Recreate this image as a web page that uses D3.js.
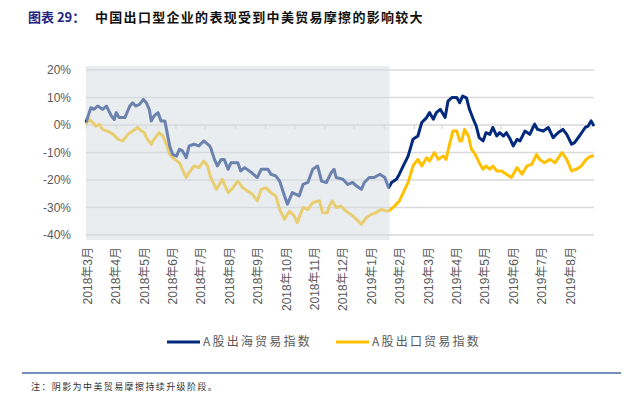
<!DOCTYPE html>
<html>
<head>
<meta charset="utf-8">
<script src="https://cdn.jsdelivr.net/npm/d3@7"></script>
<style>
  body { margin: 0; background: #fff; }
  svg { display: block; font-family: "Liberation Sans", "Noto Sans CJK SC", sans-serif; }
</style>
</head>
<body>
<div id="chart"></div>
<script>

// A股出海贸易指数 (%)
var outboundDates = ["2018-03-01","2018-03-06","2018-03-09","2018-03-13","2018-03-18","2018-03-22","2018-03-27","2018-03-30",
    "2018-04-01","2018-04-04","2018-04-10","2018-04-15","2018-04-18","2018-04-21","2018-04-25","2018-04-29",
    "2018-05-02","2018-05-05","2018-05-07","2018-05-10","2018-05-14","2018-05-17","2018-05-21","2018-05-26","2018-05-29",
    "2018-06-02","2018-06-05","2018-06-08","2018-06-12","2018-06-15","2018-06-20","2018-06-25","2018-06-30",
    "2018-07-06","2018-07-07","2018-07-11","2018-07-14","2018-07-18","2018-07-21","2018-07-25","2018-07-28",
    "2018-08-04","2018-08-07","2018-08-11","2018-08-18","2018-08-24","2018-08-28",
    "2018-09-04","2018-09-07","2018-09-12","2018-09-16","2018-09-21","2018-09-24","2018-09-29",
    "2018-10-06","2018-10-10","2018-10-15","2018-10-20","2018-10-25","2018-10-29",
    "2018-11-03","2018-11-08","2018-11-11","2018-11-13","2018-11-20","2018-11-25","2018-11-30",
    "2018-12-04","2018-12-09","2018-12-12","2018-12-17","2018-12-22","2018-12-28",
    "2019-01-02","2019-01-06","2019-01-09","2019-01-14","2019-01-17","2019-01-21","2019-01-26","2019-01-31",
    "2019-02-05","2019-02-09","2019-02-14","2019-02-17","2019-02-21","2019-02-24","2019-02-28",
    "2019-03-05","2019-03-08","2019-03-12","2019-03-17","2019-03-20","2019-03-23","2019-03-27","2019-03-30",
    "2019-04-03","2019-04-06","2019-04-09","2019-04-13","2019-04-16","2019-04-20","2019-04-23","2019-04-27","2019-04-30",
    "2019-05-04","2019-05-07","2019-05-11","2019-05-14","2019-05-18","2019-05-21","2019-05-26","2019-05-31",
    "2019-06-05","2019-06-08","2019-06-14","2019-06-19","2019-06-24","2019-06-29",
    "2019-07-04","2019-07-08","2019-07-13","2019-07-16","2019-07-21","2019-07-27","2019-07-30","2019-08-02","2019-08-05"]
var outboundValues = [0.9,6.3,5.7,6.9,5.7,6.9,3.3,2.0,
    4.5,2.7,2.7,6.9,8.1,6.9,7.5,9.3,
    8.1,5.7,1.5,3.3,4.5,1.5,1.5,-7.6,-10.7,
    -11.3,-8.8,-9.4,-11.9,-7.6,-7.0,-7.6,-5.8,
    -7.6,-8.2,-12.5,-14.9,-12.5,-12.5,-16.1,-13.7,
    -13.7,-16.7,-15.5,-17.3,-19.1,-16.1,
    -16.1,-17.9,-18.5,-20.4,-25.8,-28.8,-24.6,
    -25.8,-21.6,-20.9,-16.1,-14.9,-20.4,
    -20.9,-17.3,-16.1,-19.1,-19.7,-21.6,-20.9,
    -22.2,-23.4,-20.9,-19.1,-19.1,-17.9,
    -19.1,-22.8,-20.9,-19.7,-17.9,-14.9,-11.3,-5.2,
    -4.0,0.9,2.7,4.5,2.1,4.5,5.7,
    2.7,8.7,10.0,10.0,8.1,10.5,9.9,5.7,
    2.1,-0.4,-4.6,-5.8,-2.8,-3.4,-0.9,-4.0,-2.8,
    -4.0,-2.8,-5.2,-7.6,-5.2,-5.8,-2.2,-3.4,
    0.3,-1.6,-2.2,-0.9,-4.6,-2.8,
    -1.6,-3.4,-7.0,-6.4,-4.0,-0.9,-0.4,1.5,-0.4]

// A股出口贸易指数 (%)
var exportDates = ["2018-03-01","2018-03-04","2018-03-08","2018-03-11","2018-03-15","2018-03-18","2018-03-23","2018-03-29",
    "2018-04-03","2018-04-08","2018-04-13","2018-04-18","2018-04-23","2018-04-27","2018-04-30",
    "2018-05-02","2018-05-07","2018-05-10","2018-05-15","2018-05-19","2018-05-22","2018-05-26","2018-05-31",
    "2018-06-05","2018-06-08","2018-06-12","2018-06-15","2018-06-20","2018-06-25","2018-06-30",
    "2018-07-04","2018-07-07","2018-07-13","2018-07-16","2018-07-19","2018-07-25","2018-07-30",
    "2018-08-04","2018-08-09","2018-08-14","2018-08-19","2018-08-24","2018-08-28",
    "2018-09-02","2018-09-07","2018-09-12","2018-09-16","2018-09-21","2018-09-26",
    "2018-10-01","2018-10-04","2018-10-10","2018-10-15","2018-10-20","2018-10-27","2018-10-30",
    "2018-11-04","2018-11-06","2018-11-09","2018-11-13","2018-11-18","2018-11-23","2018-11-28",
    "2018-12-04","2018-12-09","2018-12-14","2018-12-19","2018-12-24","2018-12-29",
    "2019-01-04","2019-01-06","2019-01-12","2019-01-17","2019-01-21","2019-01-26","2019-01-31",
    "2019-02-05","2019-02-09","2019-02-14","2019-02-17","2019-02-22","2019-02-26",
    "2019-03-03","2019-03-06","2019-03-10","2019-03-13","2019-03-17","2019-03-20","2019-03-22","2019-03-25","2019-03-29",
    "2019-04-01","2019-04-05","2019-04-09","2019-04-13","2019-04-16","2019-04-20","2019-04-23","2019-04-27",
    "2019-05-02","2019-05-07","2019-05-12","2019-05-18","2019-05-23","2019-05-28",
    "2019-06-02","2019-06-07","2019-06-10","2019-06-15","2019-06-21","2019-06-26",
    "2019-07-03","2019-07-08","2019-07-13","2019-07-18","2019-07-23","2019-07-28","2019-08-02","2019-08-05"]
var exportValues = [0.2,2.1,0.9,-0.4,0.2,-1.6,-2.2,-3.4,
    -5.2,-5.8,-3.4,-2.2,-0.9,-2.2,-2.8,
    -4.6,-7.0,-5.2,-2.8,-4.0,-6.4,-10.7,-12.5,
    -13.7,-16.1,-19.1,-17.3,-14.9,-15.5,-13.1,
    -14.9,-19.1,-23.4,-21.6,-19.7,-24.6,-22.8,
    -20.4,-22.8,-24.0,-25.2,-27.6,-23.4,
    -22.8,-24.6,-25.8,-30.7,-34.3,-31.3,
    -33.1,-35.5,-30.0,-30.7,-28.2,-27.6,-31.9,
    -31.9,-29.5,-27.6,-30.0,-29.5,-31.3,-32.5,
    -34.3,-36.1,-33.7,-32.5,-31.9,-30.7,
    -31.3,-31.3,-29.5,-27.6,-24.6,-20.9,-14.9,
    -12.5,-14.9,-11.9,-13.1,-10.0,-12.5,
    -11.3,-12.5,-6.4,-2.2,-2.2,-5.8,-5.8,-1.6,-4.0,
    -8.8,-10.7,-13.7,-16.1,-14.9,-16.1,-14.9,-16.7,
    -16.7,-17.9,-19.1,-15.5,-17.9,-14.9,
    -14.3,-10.7,-12.5,-13.7,-12.5,-13.7,
    -10.0,-12.5,-16.7,-16.1,-14.9,-12.5,-11.3,-11.3]

var xLabels = ["2018年3月","2018年4月","2018年5月","2018年6月","2018年7月","2018年8月","2018年9月",
    "2018年10月","2018年11月","2018年12月","2019年1月","2019年2月","2019年3月","2019年4月",
    "2019年5月","2019年6月","2019年7月","2019年8月"]
var yTicks = [20, 10, 0, -10, -20, -30, -40]
var shadePeriod = ["2018-03-01", "2019-01-07"]   // 中美贸易摩擦持续升级阶段
var seriesNames = ["A股出海贸易指数", "A股出口贸易指数"]
var seriesColors = ["#03297c", "#ffc000"]

var W = 635, H = 395
var parse = d3.timeParse("%Y-%m-%d")

var svg = d3.select("#chart").append("svg")
    .attr("width", W)
    .attr("height", H)

var x = d3.scaleTime()
    .domain([parse("2018-03-01"), parse("2019-08-05")])
    .range([86, 594])
var y = d3.scaleLinear()
    .domain([-40, 20])
    .range([235, 70])
// the labels sit on an evenly spaced (trading-day) axis
var xl = d3.scalePoint()
    .domain(xLabels)
    .range([87, 570])

// title
var title = svg.append("text")
    .attr("x", 28)
    .attr("y", 22)
    .style("font-family", "'Noto Sans CJK SC', sans-serif")
    .style("font-weight", "bold")
    .style("font-size", "13px")
title.append("tspan")
    .attr("fill", "#25257f")
    .text("图表 29：")
title.append("tspan")
    .attr("x", 95)
    .attr("fill", "#111")
    .style("letter-spacing", "1.3px")
    .text("中国出口型企业的表现受到中美贸易摩擦的影响较大")

// gridlines
svg.append("g")
    .selectAll("line")
    .data(yTicks)
  .enter().append("line")
    .attr("x1", x.range()[0])
    .attr("x2", x.range()[1])
    .attr("y1", function(d) { return y(d) })
    .attr("y2", function(d) { return y(d) })
    .attr("stroke", "#d9d9d9")
    .attr("stroke-width", 1.3)

// month ticks on the 0% line
var tickAxis = svg.append("g")
    .attr("transform", "translate(0," + y(0) + ")")
    .call(d3.axisBottom(x)
        .ticks(d3.timeMonth.every(1))
        .tickSize(4)
        .tickFormat(""))
tickAxis.select(".domain").remove()
tickAxis.selectAll(".tick line").attr("stroke", "#d9d9d9").attr("stroke-width", 1.3)

// y labels
svg.append("g")
    .selectAll("text")
    .data(yTicks)
  .enter().append("text")
    .attr("x", 71)
    .attr("y", function(d) { return y(d) })
    .attr("dy", "0.35em")
    .attr("text-anchor", "end")
    .attr("fill", "#595959")
    .style("font-size", "12px")
    .text(function(d) { return d + "%" })

// x labels
var xAxis = svg.append("g")
    .attr("transform", "translate(0,247)")
    .call(d3.axisBottom(xl).tickSize(0).tickPadding(0))
xAxis.select(".domain").remove()
xAxis.selectAll("text")
    .attr("transform", "rotate(-90)")
    .attr("x", 0)
    .attr("y", 0)
    .attr("dy", "0.35em")
    .attr("text-anchor", "end")
    .attr("fill", "#595959")
    .style("font-size", "12px")
    .style("font-family", "'Liberation Sans', 'Noto Sans CJK SC', sans-serif")

// lines
var line = d3.line()
    .x(function(d) { return x(d[0]) })
    .y(function(d) { return y(d[1]) })

var series = [
    d3.zip(outboundDates.map(parse), outboundValues),
    d3.zip(exportDates.map(parse), exportValues)
]
// draw the yellow one first, navy on top
svg.append("path")
    .datum(series[1])
    .attr("fill", "none")
    .attr("stroke", seriesColors[1])
    .attr("stroke-width", 3)
    .attr("stroke-linejoin", "round")
    .attr("d", line)
svg.append("path")
    .datum(series[0])
    .attr("fill", "none")
    .attr("stroke", seriesColors[0])
    .attr("stroke-width", 3)
    .attr("stroke-linejoin", "round")
    .attr("d", line)

// shade (semi transparent, lies on top of the lines)
svg.append("rect")
    .attr("x", x(parse(shadePeriod[0])))
    .attr("y", y(21.5))
    .attr("width", x(parse(shadePeriod[1])) - x(parse(shadePeriod[0])))
    .attr("height", y(-41.8) - y(21.5))
    .attr("fill", "#d3dbe2")
    .attr("opacity", 0.5)

// legend
var legend = svg.append("g")
    .selectAll("g")
    .data(seriesNames)
  .enter().append("g")
    .attr("transform", function(d, i) { return "translate(" + (167 + i * 169) + ",342)" })
legend.append("line")
    .attr("x1", 0)
    .attr("x2", 33)
    .attr("stroke", function(d, i) { return seriesColors[i] })
    .attr("stroke-width", 3)
legend.append("text")
    .attr("x", 36)
    .attr("dy", "0.35em")
    .attr("fill", "#595959")
    .style("font-size", "12px")
    .style("letter-spacing", "2.2px")
    .style("font-family", "'Noto Sans CJK SC', sans-serif")
    .text(function(d) { return d })

// footnote
svg.append("line")
    .attr("x1", 22)
    .attr("x2", 621)
    .attr("y1", 373)
    .attr("y2", 373)
    .attr("stroke", "#4a68a6")
    .attr("stroke-width", 1.3)
svg.append("text")
    .attr("x", 31)
    .attr("y", 390)
    .attr("fill", "#333")
    .style("font-size", "9px")
    .style("letter-spacing", "1.4px")
    .style("font-family", "'Noto Sans CJK SC', sans-serif")
    .text("注：阴影为中美贸易摩擦持续升级阶段。")

</script>
</body>
</html>
